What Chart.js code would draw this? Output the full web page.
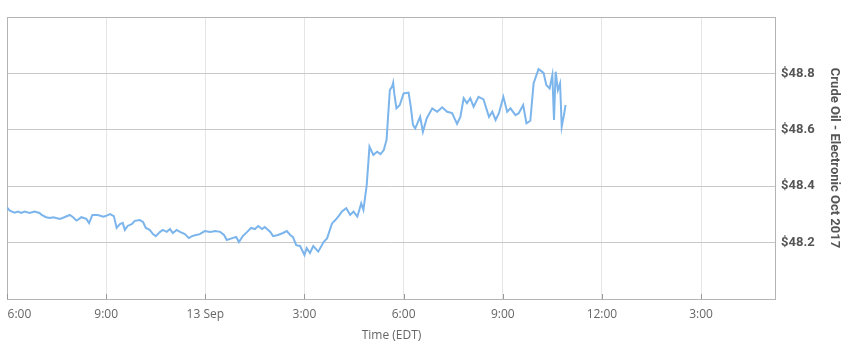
<!DOCTYPE html>
<html>
<head>
<meta charset="utf-8">
<script src="https://cdn.jsdelivr.net/npm/chart.js@4/dist/chart.umd.min.js"></script>
<style>
  html, body { margin: 0; padding: 0; background: #fff; }
  #wrap { width: 855px; height: 355px; position: relative; }
</style>
</head>
<body>
<div id="wrap"><canvas id="c" width="855" height="355"></canvas></div>
<script>
// Minutes after 18:00 (12 Sep, EDT)
const minutes = [0,5,14,20,26,32,41,50,59,63,71,78,84,96,104,114,120,126,131,135,144,149,155,165,175,
  179,187,194,199,205,210,214,219,227,232,241,247,252,259,265,270,278,283,290,296,301,308,314,323,330,336,343,350,
  359,369,378,387,394,399,409,416,421,428,436,443,450,456,463,468,478,483,492,501,508,514,519,525,532,540,544,550,556,565,
  575,581,590,596,602,608,616,623,629,636,643,647,653,658,665,672,678,684,689,695,699,701,703,707,713,720,729,733,737,741,
  745,750,755,762,772,781,790,799,808,817,823,829,835,841,847,856,865,875,881,887,893,901,908,914,923,929,937,943,950,956,
  965,974,979,985,990,993,996,1000,1004,1007,1011,1014];
const prices = [48.325,48.313,48.306,48.310,48.305,48.310,48.305,48.310,48.305,48.298,48.290,48.287,48.290,48.284,48.290,48.298,48.290,48.278,48.284,48.290,48.284,48.269,48.298,48.298,48.292,
  48.294,48.301,48.294,48.252,48.266,48.270,48.245,48.259,48.266,48.277,48.280,48.273,48.252,48.245,48.230,48.223,48.238,48.245,48.238,48.248,48.234,48.245,48.238,48.230,48.216,48.223,48.227,48.230,
  48.241,48.238,48.241,48.238,48.227,48.209,48.216,48.220,48.202,48.223,48.238,48.252,48.248,48.259,48.248,48.255,48.238,48.223,48.227,48.234,48.241,48.227,48.220,48.191,48.188,48.156,48.181,48.163,48.188,48.168,
  48.203,48.215,48.268,48.280,48.294,48.310,48.322,48.298,48.310,48.292,48.339,48.316,48.404,48.540,48.511,48.522,48.514,48.528,48.564,48.741,48.753,48.767,48.729,48.676,48.688,48.729,48.732,48.682,48.617,48.605,
  48.623,48.646,48.593,48.641,48.676,48.664,48.680,48.664,48.659,48.621,48.646,48.712,48.694,48.712,48.682,48.717,48.708,48.646,48.664,48.635,48.659,48.717,48.664,48.676,48.652,48.659,48.688,48.623,48.632,48.765,
  48.815,48.802,48.759,48.747,48.794,48.635,48.806,48.741,48.765,48.611,48.652,48.688];
const tickMinutes = [0,180,360,540,720,900,1080,1260];
const tickLabels = ['6:00','9:00','13 Sep','3:00','6:00','9:00','12:00','3:00'];
const priceTicks = [48.2,48.4,48.6,48.8];
const seriesName = 'Crude Oil - Electronic Oct 2017';
const xTitle = 'Time (EDT)';

const points = minutes.map((m, i) => ({x: m, y: prices[i]}));

const frame = {
  id: 'frame',
  beforeDatasetsDraw(chart) {
    const {ctx, chartArea: a, scales} = chart;
    ctx.save();
    ctx.strokeStyle = '#b4b4b4';
    ctx.lineWidth = 1;
    ctx.strokeRect(Math.round(a.left) + 0.5, Math.round(a.top) + 0.5,
      Math.round(a.right - a.left) - 1, Math.round(a.bottom - a.top));
    ctx.strokeStyle = '#999';
    scales.x.ticks.forEach(t => {
      const px = Math.round(scales.x.getPixelForValue(t.value)) + 0.5;
      ctx.beginPath();
      ctx.moveTo(px, a.bottom);
      ctx.lineTo(px, a.bottom - 5);
      ctx.stroke();
    });
    ctx.restore();
  }
};

new Chart(document.getElementById('c'), {
  type: 'line',
  data: {
    datasets: [{
      label: seriesName,
      data: points,
      borderColor: '#7cb5ec',
      borderWidth: 2,
      pointRadius: 0,
      tension: 0,
      fill: false
    }]
  },
  options: {
    responsive: false,
    animation: false,
    layout: { padding: { left: 7, top: 17, right: 0, bottom: 0 } },
    plugins: { legend: { display: false }, tooltip: { enabled: false } },
    scales: {
      x: {
        type: 'linear',
        min: 0,
        max: 1396,
        afterBuildTicks(s) { s.ticks = tickMinutes.map(v => ({value: v})); },
        afterFit(s) { s.height = 56; s.paddingLeft = 0; s.paddingRight = 0; },
        ticks: {
          autoSkip: false,
          maxRotation: 0,
          padding: 8,
          color: '#666',
          font: { family: 'Open Sans', size: 12 },
          callback(v) {
            const i = tickMinutes.indexOf(v);
            if (i < 0) return '';
            // first label sits to the right of its tick, as in the original
            return i === 0 ? '        ' + tickLabels[i] : tickLabels[i];
          }
        },
        grid: { color: '#e6e6e6', drawTicks: false },
        border: { display: false },
        title: {
          display: true,
          text: xTitle,
          color: '#666',
          font: { family: 'Open Sans', size: 12 },
          padding: { top: 0, bottom: 12 }
        }
      },
      y: {
        position: 'right',
        min: 48.0,
        max: 49.0,
        afterBuildTicks(s) { s.ticks = priceTicks.map(v => ({value: v})); },
        afterFit(s) { s.width = 79; },
        ticks: {
          padding: 5,
          color: '#555',
          font: { family: 'Roboto', size: 13, weight: 'bold' },
          callback(v) { return '$' + v.toFixed(1); }
        },
        grid: { color: '#c8c8c8', drawTicks: false },
        border: { display: false },
        title: {
          display: true,
          text: seriesName,
          color: '#555',
          font: { family: 'Roboto', size: 13, weight: 'bold' },
          padding: { top: 13, bottom: 0 }
        }
      }
    }
  },
  plugins: [frame]
});
</script>
</body>
</html>
